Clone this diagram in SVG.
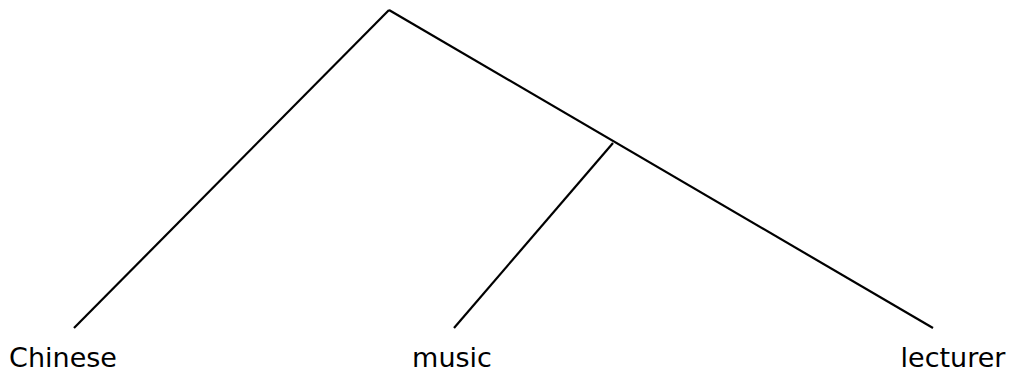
<svg xmlns="http://www.w3.org/2000/svg" width="1012" height="374" viewBox="0 0 1012 374">
<style>
.e{stroke:#000;stroke-width:2.2;fill:none;stroke-linecap:butt}
.t{font-family:"DejaVu Sans",Verdana,sans-serif;font-size:27px;fill:#000;text-anchor:middle}
</style>
<rect width="1012" height="374" fill="#fff"/>
<g id="connectors">
<line class="e" x1="389" y1="10" x2="74" y2="328"/>
<line class="e" x1="389" y1="10" x2="933" y2="328"/>
<line class="e" x1="613" y1="143" x2="454" y2="328"/>
</g>
<g id="n-chinese"><text class="t" x="63" y="367">Chinese</text></g>
<g id="n-music"><text class="t" x="452" y="367">music</text></g>
<g id="n-lecturer"><text class="t" x="953" y="367">lecturer</text></g>
</svg>
